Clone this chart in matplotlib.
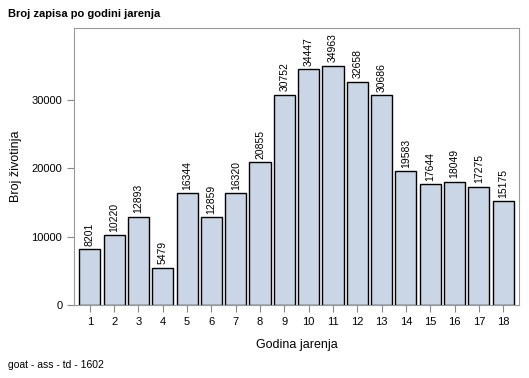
import matplotlib
matplotlib.use("Agg")
import matplotlib.pyplot as plt

# data
years = list(range(1, 19))
counts = [8201, 10220, 12893, 5479, 16344, 12859, 16320, 20855, 30752,
          34447, 34963, 32658, 30686, 19583, 17644, 18049, 17275, 15175]
yticks = [0, 10000, 20000, 30000]

plt.rcParams['font.family'] = ['Liberation Sans', 'DejaVu Sans']

fig = plt.figure(figsize=(5.29, 3.78), dpi=100)
ax = fig.add_axes([0.14, 0.193, 0.841, 0.733])

ax.bar(years, counts, width=0.87, color='#cad5e5', edgecolor='black', linewidth=1.0)
for x, v in zip(years, counts):
    ax.text(x, v + 500, str(v), rotation=90, ha='center', va='bottom', fontsize=7.5)

ax.set_xlim(0.35, 18.65)
ax.set_ylim(0, 40500)
ax.set_xticks(years)
ax.set_yticks(yticks)
ax.set_yticklabels([str(t) for t in yticks])
ax.tick_params(labelsize=8, color='#888888', length=5)
for s in ax.spines.values():
    s.set_color('#999999')

ax.set_xlabel('Godina jarenja', fontsize=9, labelpad=9)
ax.set_ylabel('Broj životinja', fontsize=9, labelpad=7)

fig.text(8 / 529, 1 - 14 / 378, 'Broj zapisa po godini jarenja', fontsize=8,
         fontweight='bold', va='center', ha='left')
fig.text(8 / 529, 1 - 365 / 378, 'goat - ass - td - 1602', fontsize=7.5,
         va='center', ha='left')

plt.savefig("out.png", dpi=100)
